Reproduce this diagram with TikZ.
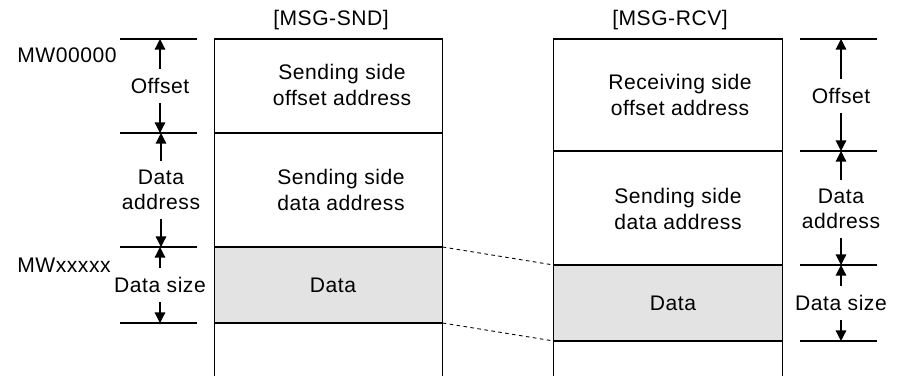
\documentclass[tikz,border=0pt]{standalone}
\usepackage{fontspec}
\setmainfont[LetterSpace=2.5]{Liberation Sans}
\usetikzlibrary{arrows.meta}
\definecolor{datagray}{rgb}{0.89, 0.89, 0.89}

\begin{document}
\begin{tikzpicture}[x=0.02cm, y=-0.02cm,
  cell/.style={draw, line width=0.7pt, inner sep=0pt, outer sep=0pt,
               minimum width=4.57cm},
  txt/.style={align=center, font=\fontsize{12}{14.5}\selectfont},
  dim/.style={txt, inner xsep=3pt, inner ysep=5pt},
  arr/.style={-{Triangle[length=6pt, width=6pt]}, line width=0.7pt},
  ext/.style={line width=0.7pt},
  dashline/.style={dash pattern=on 2pt off 2pt, line width=0.5pt}
]
  \useasboundingbox (0,0) rectangle (898,376);

  % sending side
  \node[cell, minimum height=1.88cm] (so)  at (328.5, 86) {};
  \node[cell, minimum height=2.28cm] (sd)  at (328.5, 190) {};
  \node[cell, minimum height=1.52cm, fill=datagray] (sdat) at (328.5, 285) {};
  \draw[ext] (sdat.south west) -- ++(0,53) (sdat.south east) -- ++(0,53);

  % receiving side
  \node[cell, minimum height=2.24cm] (ro)  at (668, 95) {};
  \node[cell, minimum height=2.28cm] (rd)  at (668, 208) {};
  \node[cell, minimum height=1.52cm, fill=datagray] (rdat) at (668, 303) {};
  \draw[ext] (rdat.south west) -- ++(0,35) (rdat.south east) -- ++(0,35);

  \node[txt] (snd)   at (331, 20)  {[MSG-SND]};
  \node[txt] (rcv)   at (670, 20)  {[MSG-RCV]};
  \node[txt] (sot)   at (342, 85)  {Sending side\\offset address};
  \node[txt] (sdt)   at (341, 190) {Sending side\\data address};
  \node[txt] (sdatt) at (333, 285) {Data};
  \node[txt] (rot)   at (680, 95)  {Receiving side\\offset address};
  \node[txt] (rdt)   at (678, 209) {Sending side\\data address};
  \node[txt] (rdatt) at (673, 303) {Data};

  \node[txt, anchor=west, inner sep=0pt] (mw0) at (17, 55)  {MW00000};
  \node[txt, anchor=west, inner sep=0pt] (mwx) at (17, 265) {MWxxxxx};

  % dimension lines
  \foreach \y in {39, 133, 247, 323} \draw[ext] (120,\y) -- (197,\y);
  \foreach \y in {39, 151, 265, 341} \draw[ext] (800,\y) -- (877,\y);

  \node[dim] (loff)  at (160, 86)  {Offset};
  \node[dim] (ldad)  at (161, 190) {Data\\address};
  \node[dim] (lsize) at (160, 285) {Data size};
  \node[dim] (roff)  at (841, 96)  {Offset};
  \node[dim] (rdad)  at (841, 209) {Data\\address};
  \node[dim] (rsize) at (841, 303) {Data size};

  \draw[arr] (loff)  -- (loff |- so.north);
  \draw[arr] (loff)  -- (loff |- so.south);
  \draw[arr] (ldad)  -- (ldad |- sd.north);
  \draw[arr] (ldad)  -- (ldad |- sd.south);
  \draw[arr] (lsize) -- (lsize |- sdat.north);
  \draw[arr] (lsize) -- (lsize |- sdat.south);
  \draw[arr] (roff)  -- (roff |- ro.north);
  \draw[arr] (roff)  -- (roff |- ro.south);
  \draw[arr] (rdad)  -- (rdad |- rd.north);
  \draw[arr] (rdad)  -- (rdad |- rd.south);
  \draw[arr] (rsize) -- (rsize |- rdat.north);
  \draw[arr] (rsize) -- (rsize |- rdat.south);

  \draw[dashline] (sdat.north east) -- (rdat.north west);
  \draw[dashline] (sdat.south east) -- (rdat.south west);
\end{tikzpicture}
\end{document}
